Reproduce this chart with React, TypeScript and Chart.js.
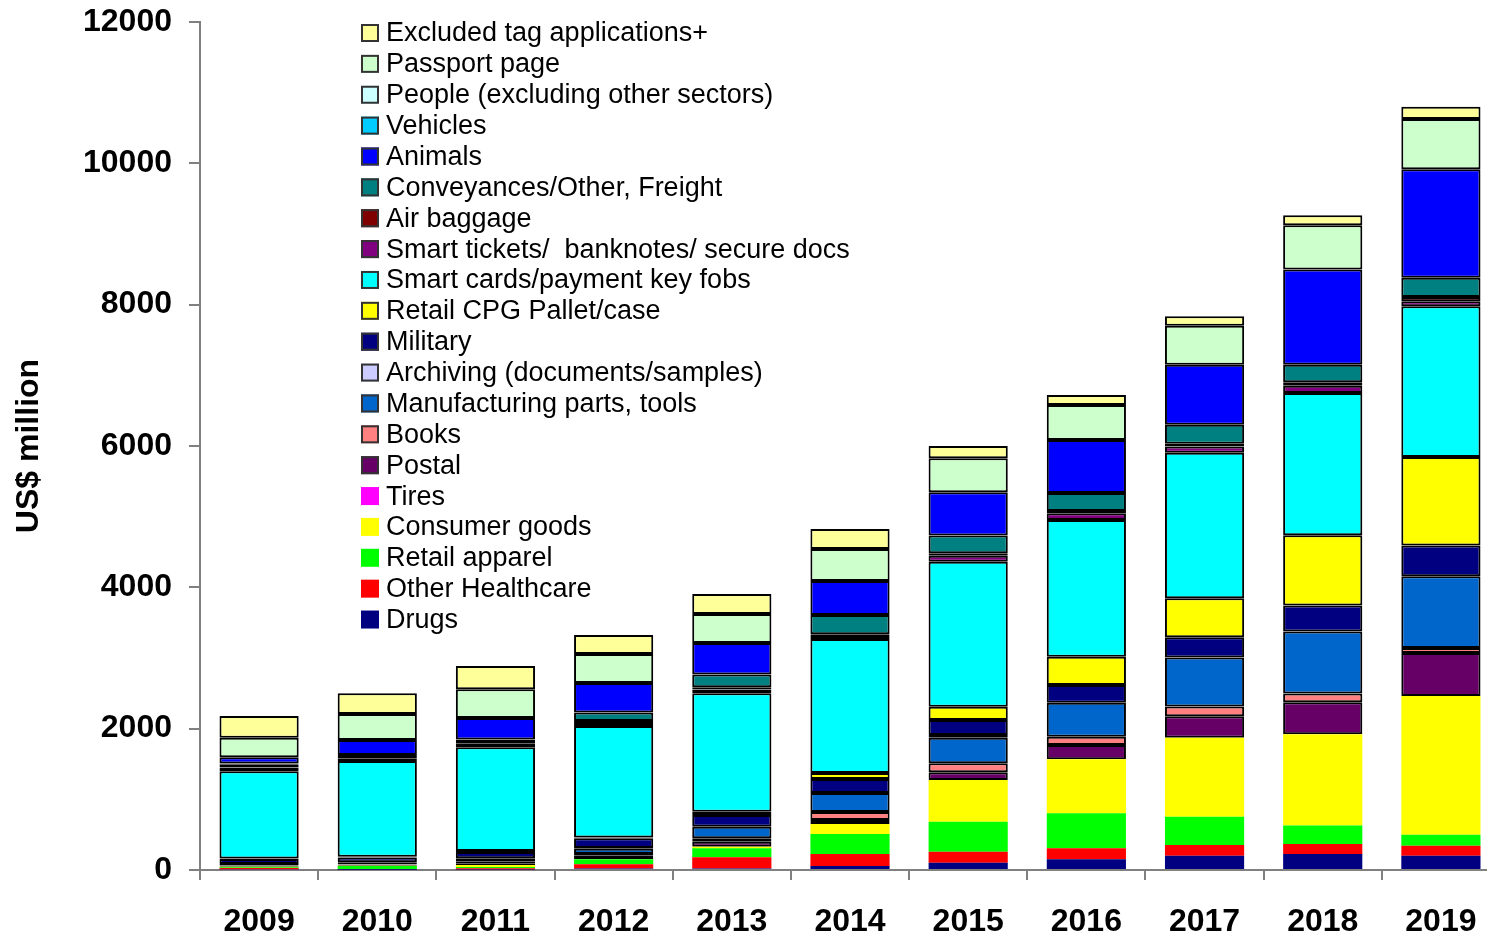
import React, { useEffect, useRef } from "react";
import { Chart, registerables } from "chart.js";

Chart.register(...registerables);

const years = ["2009", "2010", "2011", "2012", "2013", "2014", "2015", "2016", "2017", "2018", "2019"];
const yTickValues = [0, 2000, 4000, 6000, 8000, 10000, 12000];

// stacking order: bottom (Drugs) to top (Excluded tag applications+)
const drugs = [10, 5, 8, 20, 20, 57, 103, 151, 202, 226, 200];
const otherHealthcare = [20, 5, 15, 61, 160, 169, 156, 156, 153, 142, 142];
const retailApparel = [10, 45, 20, 70, 127, 283, 424, 495, 399, 263, 158];
const consumerGoods = [5, 6, 28, 5, 23, 142, 591, 764, 1117, 1289, 1964];
const tires = [0, 0, 0, 0, 0, 0, 0, 0, 0, 0, 0];
const postal = [10, 12, 25, 45, 70, 57, 108, 203, 306, 454, 607];
const books = [10, 10, 20, 25, 49, 113, 128, 117, 135, 123, 72];
const manufacturing = [20, 25, 50, 75, 164, 269, 360, 481, 695, 878, 1014];
const archiving = [0, 0, 0, 10, 0, 0, 40, 0, 0, 0, 0];
const military = [70, 70, 90, 138, 165, 198, 213, 251, 287, 368, 436];
const retailCPG = [9, 10, 13, 10, 47, 85, 188, 400, 553, 994, 1251];
const smartCards = [1235, 1354, 1467, 1579, 1675, 1896, 2051, 1935, 2056, 2012, 2135];
const smartTickets = [50, 40, 50, 55, 55, 56, 85, 97, 89, 103, 69];
const airBaggage = [40, 30, 40, 15, 30, 10, 34, 30, 40, 50, 60];
const conveyances = [19, 15, 21, 121, 183, 273, 252, 255, 269, 246, 272];
const animals = [89, 213, 304, 417, 444, 481, 611, 750, 847, 1351, 1535];
const vehicles = [0, 0, 0, 0, 0, 0, 0, 0, 0, 0, 0];
const people = [0, 0, 0, 0, 0, 0, 0, 0, 0, 0, 0];
const passport = [273, 367, 406, 410, 410, 453, 481, 495, 552, 625, 714];
const excluded = [311, 293, 330, 269, 283, 283, 175, 141, 136, 141, 172];

type Series = { label: string; data: number[]; color: string; outlined: boolean };

const series: Series[] = [
  { label: "Drugs", data: drugs, color: "#000080", outlined: false },
  { label: "Other Healthcare", data: otherHealthcare, color: "#FF0000", outlined: false },
  { label: "Retail apparel", data: retailApparel, color: "#00FF00", outlined: false },
  { label: "Consumer goods", data: consumerGoods, color: "#FFFF00", outlined: false },
  { label: "Tires", data: tires, color: "#FF00FF", outlined: false },
  { label: "Postal", data: postal, color: "#660066", outlined: true },
  { label: "Books", data: books, color: "#FF8080", outlined: true },
  { label: "Manufacturing parts, tools", data: manufacturing, color: "#0066CC", outlined: true },
  { label: "Archiving (documents/samples)", data: archiving, color: "#CCCCFF", outlined: true },
  { label: "Military", data: military, color: "#000080", outlined: true },
  { label: "Retail CPG Pallet/case", data: retailCPG, color: "#FFFF00", outlined: true },
  { label: "Smart cards/payment key fobs", data: smartCards, color: "#00FFFF", outlined: true },
  { label: "Smart tickets/  banknotes/ secure docs", data: smartTickets, color: "#800080", outlined: true },
  { label: "Air baggage", data: airBaggage, color: "#800000", outlined: true },
  { label: "Conveyances/Other, Freight", data: conveyances, color: "#008080", outlined: true },
  { label: "Animals", data: animals, color: "#0000FF", outlined: true },
  { label: "Vehicles", data: vehicles, color: "#00CCFF", outlined: true },
  { label: "People (excluding other sectors)", data: people, color: "#CCFFFF", outlined: true },
  { label: "Passport page", data: passport, color: "#CCFFCC", outlined: true },
  { label: "Excluded tag applications+", data: excluded, color: "#FFFF99", outlined: true },
];

const FONT = '"Liberation Sans", Arial, Helvetica, sans-serif';

const insideLegend = {
  id: "insideLegend",
  afterDraw(chart: any) {
    const ctx = chart.ctx as CanvasRenderingContext2D;
    const items = [...chart.data.datasets].reverse();
    const left = chart.chartArea.left + 161;
    const top = chart.chartArea.top + 11;
    const step = 30.87;
    ctx.save();
    ctx.font = `27px ${FONT}`;
    ctx.textBaseline = "middle";
    ctx.textAlign = "left";
    items.forEach((ds: any, i: number) => {
      const cy = top + i * step;
      ctx.fillStyle = ds.backgroundColor;
      ctx.fillRect(left, cy - 9, 18, 18);
      if (ds._outlined) {
        ctx.strokeStyle = "#333333";
        ctx.lineWidth = 2;
        ctx.strokeRect(left + 1, cy - 8, 16, 16);
      }
      ctx.fillStyle = "#000000";
      ctx.fillText(ds.label, left + 25, cy + 1);
    });
    ctx.restore();
  },
};

export default function App() {
  const ref = useRef<HTMLCanvasElement | null>(null);

  useEffect(() => {
    if (!ref.current) return;
    const chart = new Chart(ref.current, {
      type: "bar",
      data: {
        labels: years,
        datasets: series.map((s) => ({
          label: s.label,
          data: s.data,
          backgroundColor: s.color,
          borderColor: "#000000",
          borderWidth: s.outlined ? 2 : 0,
          borderSkipped: false,
          barPercentage: 0.67,
          categoryPercentage: 1,
          _outlined: s.outlined,
        })) as any,
      },
      options: {
        animation: false,
        responsive: false,
        devicePixelRatio: 1,
        layout: { padding: { top: 22, left: 0, right: 0, bottom: 0 } },
        plugins: {
          legend: { display: false },
          tooltip: { enabled: false },
        },
        scales: {
          x: {
            stacked: true,
            afterFit: (scale: any) => {
              scale.height = 65;
              scale.paddingLeft = 0;
              scale.paddingRight = 0;
            },
            grid: {
              offset: true,
              drawOnChartArea: false,
              drawTicks: true,
              tickLength: 10,
              color: "#808080",
              lineWidth: 2,
            },
            border: { display: true, color: "#808080", width: 2 },
            ticks: {
              color: "#000000",
              padding: 23,
              maxRotation: 0,
              font: { family: FONT, size: 32, weight: "bold" },
            },
          },
          y: {
            stacked: true,
            min: 0,
            max: 12000,
            afterFit: (scale: any) => {
              scale.width = 200;
              scale.paddingTop = 0;
              scale.paddingBottom = 0;
            },
            afterBuildTicks: (scale: any) => {
              scale.ticks = yTickValues.map((v) => ({ value: v }));
            },
            grid: {
              drawOnChartArea: false,
              drawTicks: true,
              tickLength: 11,
              color: "#808080",
              lineWidth: 2,
            },
            border: { display: true, color: "#808080", width: 2 },
            ticks: {
              color: "#000000",
              padding: 17,
              font: { family: FONT, size: 32, weight: "bold" },
              callback: (v: any) => String(v),
            },
            title: {
              display: true,
              text: "US$ million",
              color: "#000000",
              padding: { top: 10, bottom: 0 },
              font: { family: FONT, size: 32, weight: "bold" },
            },
          },
        },
      },
      plugins: [insideLegend],
    });
    return () => chart.destroy();
  }, []);

  return (
    <div
      style={{
        position: "fixed",
        left: 0,
        top: 0,
        width: 1487,
        height: 935,
        overflow: "hidden",
        background: "#ffffff",
      }}
    >
      <canvas ref={ref} width={1500} height={935} style={{ display: "block" }} />
    </div>
  );
}
